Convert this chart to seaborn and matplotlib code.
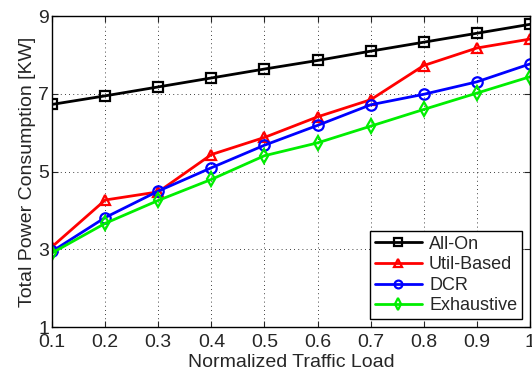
import pandas as pd
import matplotlib
matplotlib.use("Agg")
import matplotlib.pyplot as plt
import seaborn as sns

load = [0.1, 0.2, 0.3, 0.4, 0.5, 0.6, 0.7, 0.8, 0.9, 1.0]
all_on = [6.73, 6.95, 7.18, 7.41, 7.64, 7.86, 8.10, 8.33, 8.56, 8.79]
util_based = [3.07, 4.27, 4.48, 5.44, 5.88, 6.41, 6.85, 7.73, 8.18, 8.41]
dcr = [2.95, 3.82, 4.50, 5.10, 5.68, 6.19, 6.72, 6.99, 7.31, 7.77]
exhaustive = [2.91, 3.67, 4.26, 4.80, 5.41, 5.74, 6.17, 6.60, 7.02, 7.44]

series = {"All-On": all_on, "Util-Based": util_based, "DCR": dcr, "Exhaustive": exhaustive}
colors = {"All-On": "black", "Util-Based": "#ff0000", "DCR": "#0000ff", "Exhaustive": "#00ee00"}
markers = {"All-On": "s", "Util-Based": "^", "DCR": "o", "Exhaustive": "d"}

df = pd.DataFrame([(x, v, name) for name, vals in series.items() for x, v in zip(load, vals)],
                  columns=["load", "power", "scheme"])

sns.set_style("ticks")
plt.rcParams["font.family"] = ["Liberation Sans", "DejaVu Sans"]

fig = plt.figure(figsize=(5.32, 3.76), dpi=100)
ax = fig.add_axes([0.098, 0.130, 0.898, 0.827])

for name in series:
    sns.lineplot(data=df[df["scheme"] == name], x="load", y="power", ax=ax,
                 color=colors[name], marker=markers[name], markersize=7.5,
                 markerfacecolor="none", markeredgecolor=colors[name],
                 markeredgewidth=1.6, linewidth=2, label=name)

ax.set_xlim(0.1, 1.0)
ax.set_ylim(1, 9)
ax.set_xticks(load)
ax.set_xticklabels(["0.1", "0.2", "0.3", "0.4", "0.5", "0.6", "0.7", "0.8", "0.9", "1"])
ax.set_yticks([1, 3, 5, 7, 9])
ax.tick_params(direction="in", top=True, right=True, labelsize=14, length=4)
ax.tick_params(axis="x", pad=5)
ax.tick_params(axis="y", pad=2)
ax.grid(True, linestyle=(0, (1, 4)), color="black", linewidth=0.6)
for s in ax.spines.values():
    s.set_linewidth(1.0)
    s.set_color("black")

ax.set_xlabel("Normalized Traffic Load", fontsize=14, labelpad=2)
ax.set_ylabel("Total Power Consumption [KW]", fontsize=14, labelpad=2)

leg = ax.legend(loc="lower right", fontsize=13, frameon=True, fancybox=False,
                edgecolor="black", framealpha=1, handlelength=2.6, markerscale=0.75,
                borderpad=0.25, labelspacing=0.2, handletextpad=0.4,
                borderaxespad=0.45)
leg.get_frame().set_linewidth(1.0)

fig.savefig("out.png", dpi=100)
